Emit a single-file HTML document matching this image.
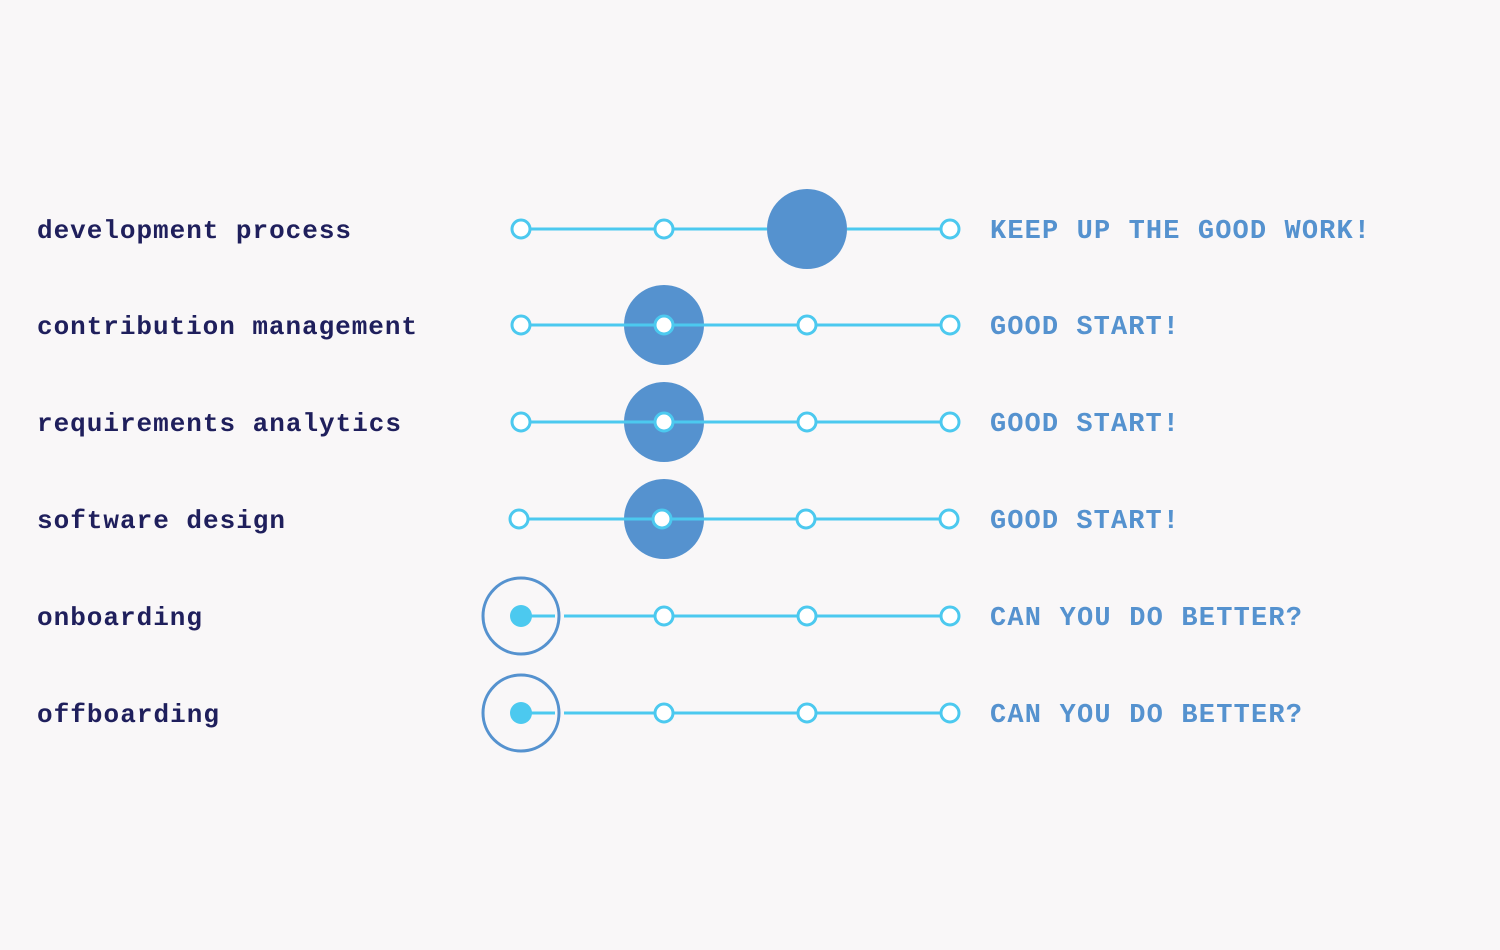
<!DOCTYPE html>
<html><head><meta charset="utf-8"><style>
html,body{margin:0;padding:0;background:#f9f7f8;}
svg{display:block}
.l{font-family:"Liberation Mono",monospace;font-size:26px;font-weight:bold;fill:#1f1f5c}
.r{font-family:"Liberation Mono",monospace;font-size:27px;fill:#5592cf;font-weight:bold}
</style></head><body>
<svg width="1500" height="950" viewBox="0 0 1500 950" xmlns="http://www.w3.org/2000/svg">
<rect width="1500" height="950" fill="#f9f7f8"/>
<g fill="#5592cf">
<circle cx="807" cy="229" r="40"/>
<circle cx="664" cy="325" r="40"/>
<circle cx="664" cy="422" r="40"/>
<circle cx="664" cy="519" r="40"/>
</g>
<g stroke="#4cc9ef" stroke-width="3">
<line x1="521" y1="229" x2="767" y2="229"/><line x1="847" y1="229" x2="950" y2="229"/>
<line x1="521" y1="325" x2="950" y2="325"/>
<line x1="521" y1="422" x2="950" y2="422"/>
<line x1="519" y1="519" x2="949" y2="519"/>
<line x1="521" y1="616" x2="555" y2="616"/><line x1="564" y1="616" x2="950" y2="616"/>
<line x1="521" y1="713" x2="555" y2="713"/><line x1="564" y1="713" x2="950" y2="713"/>
</g>
<g fill="none" stroke="#5592cf" stroke-width="3">
<circle cx="521" cy="616" r="38"/>
<circle cx="521" cy="713" r="38"/>
</g>
<g fill="#fff" stroke="#4cc9ef" stroke-width="3">
<circle cx="521" cy="229" r="9"/><circle cx="664" cy="229" r="9"/><circle cx="950" cy="229" r="9"/>
<circle cx="521" cy="325" r="9"/><circle cx="664" cy="325" r="9"/><circle cx="807" cy="325" r="9"/><circle cx="950" cy="325" r="9"/>
<circle cx="521" cy="422" r="9"/><circle cx="664" cy="422" r="9"/><circle cx="807" cy="422" r="9"/><circle cx="950" cy="422" r="9"/>
<circle cx="519" cy="519" r="9"/><circle cx="662" cy="519" r="9"/><circle cx="806" cy="519" r="9"/><circle cx="949" cy="519" r="9"/>
<circle cx="664" cy="616" r="9"/><circle cx="807" cy="616" r="9"/><circle cx="950" cy="616" r="9"/>
<circle cx="664" cy="713" r="9"/><circle cx="807" cy="713" r="9"/><circle cx="950" cy="713" r="9"/>
</g>
<g fill="#4cc9ef">
<circle cx="521" cy="616" r="11"/>
<circle cx="521" cy="713" r="11"/>
</g>
<text class="l" x="37" y="238" textLength="314">development process</text>
<text class="l" x="37" y="334" textLength="380">contribution management</text>
<text class="l" x="37" y="431" textLength="364">requirements analytics</text>
<text class="l" x="37" y="528" textLength="248">software design</text>
<text class="l" x="37" y="625" textLength="165">onboarding</text>
<text class="l" x="37" y="722" textLength="182">offboarding</text>
<text class="r" x="990" y="238" textLength="380">KEEP UP THE GOOD WORK!</text>
<text class="r" x="990" y="334" textLength="189">GOOD START!</text>
<text class="r" x="990" y="431" textLength="189">GOOD START!</text>
<text class="r" x="990" y="528" textLength="189">GOOD START!</text>
<text class="r" x="990" y="625" textLength="312">CAN YOU DO BETTER?</text>
<text class="r" x="990" y="722" textLength="312">CAN YOU DO BETTER?</text>
</svg>
</body></html>
